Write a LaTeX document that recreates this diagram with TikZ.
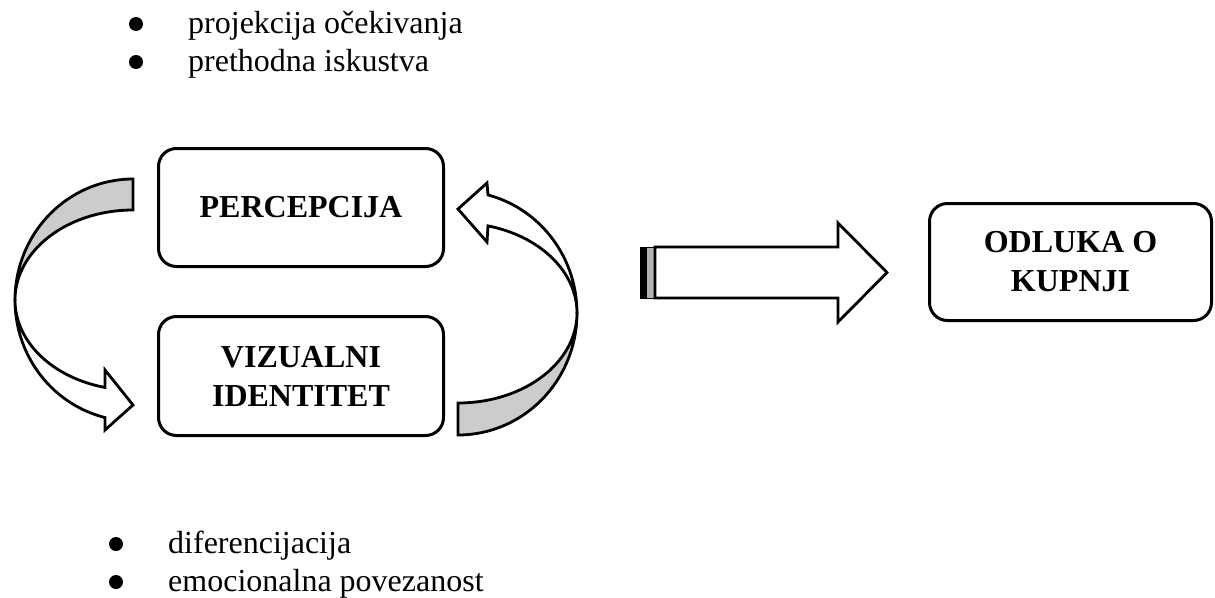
\documentclass[tikz,border=0pt]{standalone}
\usepackage{fontspec}
\setmainfont{Liberation Serif}
\begin{document}
\begin{tikzpicture}[x=1pt,y=-1pt,
 box/.style={draw,line width=3pt,rounded corners=18pt,align=center,font=\fontsize{32}{39}\selectfont\bfseries,inner sep=0pt},
 item/.style={anchor=base west,inner sep=0pt,font=\fontsize{32}{38}\selectfont},
 bul/.style={circle,fill=black,inner sep=0pt,minimum size=14pt},
 shapeline/.style={draw=black,line width=2.8pt,line join=miter},
 band/.style={shapeline,fill=gray!40},
 body/.style={shapeline,fill=white},
]
\useasboundingbox (0,0) rectangle (1215,597);

% bullet lists
\node[bul] (b1) at (136,24) {};
\node[item] (t1) at (188,33) {projekcija očekivanja};
\node[bul] (b2) at (136,62) {};
\node[item] (t2) at (188,71) {prethodna iskustva};
\node[bul] (b3) at (116,544) {};
\node[item] (t3) at (168,553) {diferencijacija};
\node[bul] (b4) at (116,582) {};
\node[item] (t4) at (168,591) {emocionalna povezanost};

% boxes
\node[box,minimum width=285pt,minimum height=118pt] (perc) at (301,207.5) {PERCEPCIJA};
\node[box,minimum width=285pt,minimum height=119pt] (viz) at (301,376) {VIZUALNI\\IDENTITET};
\node[box,minimum width=282pt,minimum height=117pt] (odl) at (1070.5,262) {ODLUKA O\\KUPNJI};

% left curved arrow
\draw[band] (133,179) -- plot[domain=270:180,samples=60] ({133+118*cos(\x)},{300+121*sin(\x)})
  -- plot[domain=180:270,samples=60] ({133+118*cos(\x)},{300+90*sin(\x)}) -- cycle;
\draw[body] (15,300) -- plot[domain=180:103.7,samples=60] ({133+118*cos(\x)},{300+121*sin(\x)})
  -- (105,430) -- (133,405) -- (105,370)
  -- plot[domain=103.7:180,samples=60] ({133+118*cos(\x)},{300+90*sin(\x)}) -- cycle;

% right curved arrow
\draw[band] (458,435) -- plot[domain=90:0,samples=60] ({458+119*cos(\x)},{313+122*sin(\x)})
  -- plot[domain=0:90,samples=60] ({458+119*cos(\x)},{313+90*sin(\x)}) -- cycle;
\draw[body] (577,313) -- plot[domain=0:-75.4,samples=60] ({458+119*cos(\x)},{313+122*sin(\x)})
  -- (487,183) -- (458,209) -- (487,242)
  -- plot[domain=-75.4:0,samples=60] ({458+119*cos(\x)},{313+90*sin(\x)}) -- cycle;

% striped arrow
\fill[black] (640,246.5) rectangle (646,298.5);
\draw[fill=gray!60,line width=1pt] (646,247.5) rectangle (654,298);
\draw[body] (655,247) -- (838,247) -- (838,223) -- (887,272.5) -- (838,322) -- (838,298) -- (655,298) -- cycle;
\end{tikzpicture}
\end{document}
